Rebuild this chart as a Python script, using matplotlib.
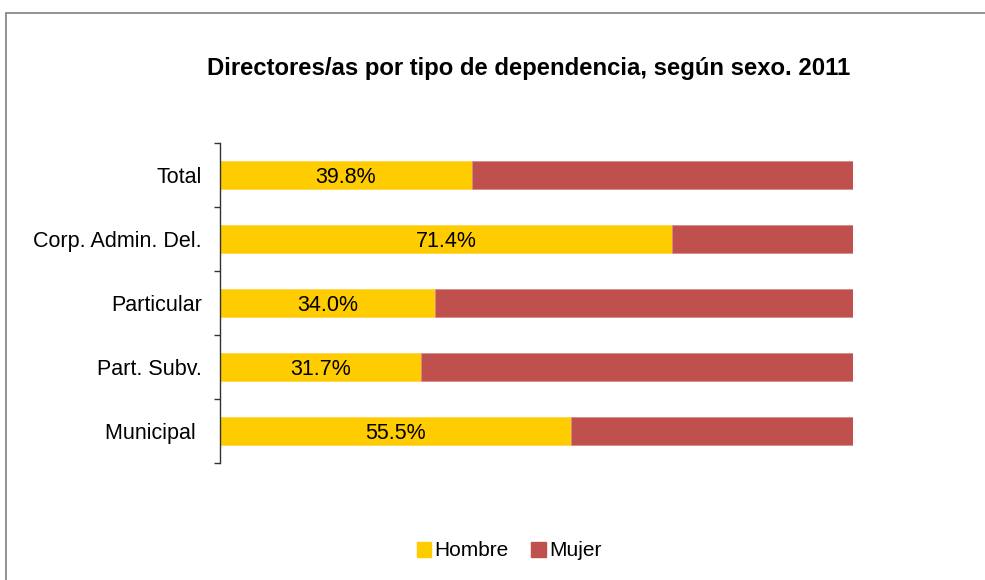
import matplotlib
matplotlib.use("Agg")
import matplotlib.pyplot as plt
from matplotlib.patches import Rectangle, Patch

categories = ["Total", "Corp. Admin. Del.", "Particular", "Part. Subv.", "Municipal "]
hombre = [39.8, 71.4, 34.0, 31.7, 55.5]
mujer = [60.2, 28.6, 66.0, 68.3, 44.5]
series_names = ["Hombre", "Mujer"]
title = "Directores/as por tipo de dependencia, según sexo. 2011"

c_h = "#FFCC00"
c_m = "#C0504D"

plt.rcParams['font.family'] = ['Liberation Sans', 'DejaVu Sans']

fig = plt.figure(figsize=(9.85, 5.8), dpi=100)
ax = fig.add_axes([220/985, 1-463/580, (853-220)/985, (463-143)/580])

ypos = list(range(len(categories)))
h = [v/100 for v in hombre]
m = [v/100 for v in mujer]
ax.barh(ypos, h, height=0.44, color=c_h, edgecolor="#FFD24D", linewidth=0.6)
ax.barh(ypos, m, left=h, height=0.44, color=c_m, edgecolor="#D68A88", linewidth=0.6)

for y, v in zip(ypos, hombre):
    ax.text(v/200, y + 0.04, f"{v:.1f}%", ha="center", va="center", fontsize=15.5, color="black")

ax.set_ylim(len(categories)-0.5, -0.5)
ax.set_xlim(0, 1)
ax.set_yticks(ypos)
ax.set_yticklabels(categories, fontsize=15.5)
ax.set_yticks([i-0.5 for i in range(len(categories)+1)], minor=True)
ax.tick_params(axis='y', which='major', length=0, pad=13)
ax.tick_params(axis='y', which='minor', length=4.5, width=1, color="#333333", direction='out')
ax.set_xticks([])
for s in ["top", "right", "bottom"]:
    ax.spines[s].set_visible(False)
ax.spines["left"].set_color("#333333")
ax.spines["left"].set_linewidth(1)

fig.text(529/985, 1-68/580, title, ha="center", va="center", fontsize=17.2, fontweight="bold")

handles = [Patch(facecolor=c_h, edgecolor=c_h), Patch(facecolor=c_m, edgecolor=c_m)]
fig.legend(handles, series_names, loc="center", bbox_to_anchor=(509/985, 1-551/580), ncol=2,
           frameon=False, fontsize=15, handlelength=0.7, handleheight=0.7,
           handletextpad=0.15, columnspacing=1.1)

fig.patches.append(Rectangle((6/985, -0.05), 1.1, 1-13/580+0.05, transform=fig.transFigure,
                             fill=False, edgecolor="#808080", linewidth=1.2, clip_on=False))

fig.savefig("out.png", dpi=100)
